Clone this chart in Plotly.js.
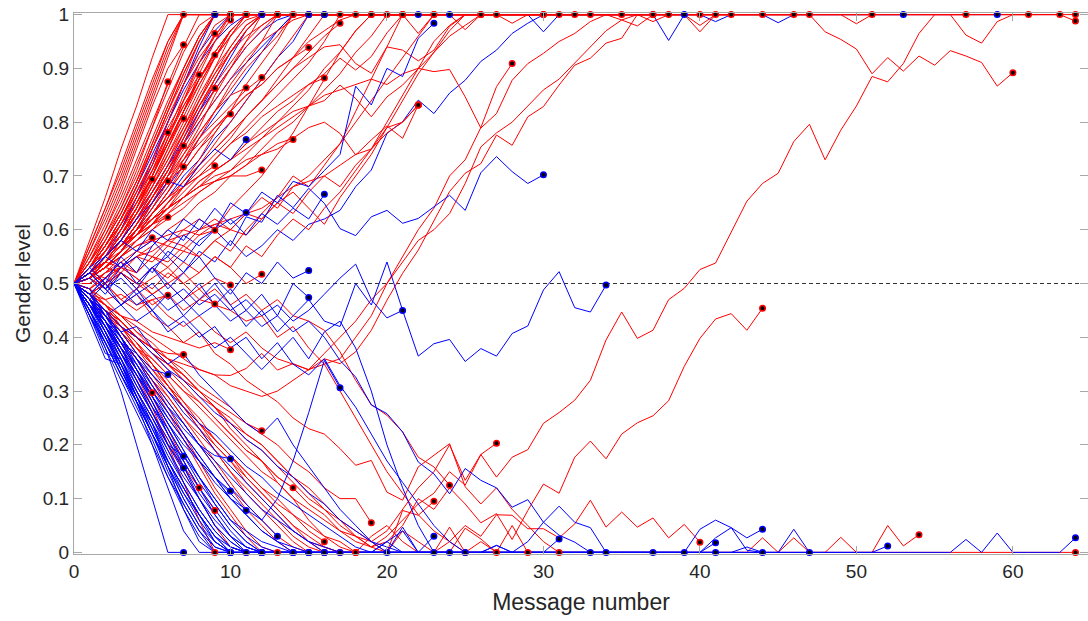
<!DOCTYPE html>
<html><head><meta charset="utf-8">
<script src="https://cdn.plot.ly/plotly-3.0.1.min.js"></script>
<style>html,body{margin:0;padding:0;background:#fff}#chart{width:1088px;height:621px}</style>
</head><body><div id="chart"></div><script>
// Each array = gender level after each message (message number = index, starting at 0)
const blueUp = [
[0.5,0.52,0.56,0.6,0.66,0.72,0.8,0.87,0.94,1],
[0.5,0.52,0.55,0.6,0.66,0.73,0.8,0.87,0.93,0.97,1, 1,1,1,1,1,1,1,1,1,1, 1,1,1,1,1,1,1,1,1, 0.968, 1,1,1,1,1,1,1,1,1,1, 1,1,1,1, 0.985, 1,1,1,1,1,1,1,1,1,1, 1,1,1,1],
[0.5,0.51,0.53,0.56,0.6,0.65,0.7,0.76,0.82,0.87,0.92,0.97,1, 1,1,1,1,1,1,1,1,1,1, 1,1,1,1,1,1,1,1,1,1, 1,1,1,1,1,1,1,1, 0.987, 1,1,1,1,1,1,1,1,1,1,1,1],
[0.5,0.51,0.49,0.52,0.5,0.53,0.55,0.52,0.56,0.54,0.58,0.55,0.57,0.6,0.58,0.61,0.62,0.636,0.68,0.711,0.779,0.801,0.841,0.816,0.854,0.878,0.913,0.934,0.965,0.984,1,1,1,1,1,1,1,1,0.952,1],
[0.5,0.52,0.55,0.58,0.62,0.67,0.72,0.77,0.82,0.86,0.9,0.94,0.97,0.99,1, 1,1,1,1,1,1,1,1],
[0.5,0.51,0.53,0.56,0.6,0.64,0.68,0.72,0.77,0.81,0.85,0.89,0.93,0.97,1, 1,1,1,1,1,1,1,1,1,1],
[0.5,0.52,0.55,0.59,0.63,0.67,0.72,0.76,0.8,0.84,0.88,0.91,0.94,0.97,1,1,1],
[0.5,0.51,0.53,0.56,0.59,0.63,0.66,0.7,0.73,0.77,0.8,0.84,0.88,0.92,0.95,1],
[0.5,0.53,0.57,0.62,0.68,0.74,0.8,0.86,0.91,0.95,0.98,1,1]
];
const redFlatTop = [
[0.5,0.53,0.57,0.62,0.68,0.75,0.82,0.89,0.95,1, 1,1,1,1,1,1,1,1,1,1, 1,1,1,1],
[0.5,0.56,0.62,0.69,0.77,0.85,0.93,1, 1,1,1,1,1,1,1,1,1,1, 1,1,1,1,1,1,1,1,1,1, 0.984,1,1],
[0.5,0.52,0.55,0.59,0.64,0.69,0.75,0.81,0.87,0.92,0.97,1, 1,1,1,1,1,1,1,1,1,1, 1,1,1, 0.972, 1,1,1,1,1,1],
[0.5,0.52,0.54,0.57,0.61,0.66,0.71,0.77,0.83,0.88,0.93,0.97,1, 1,1,1,1,1,1,1,1,1, 0.965, 1,1,1,1,1,1,1,1,1,1],
[0.5,0.54,0.59,0.64,0.7,0.77,0.84,0.9,0.96,1, 1,1,1,1,1,1,1,1,1,1, 1,1,1,1,1,1,1,1,1,1, 1,1,1,1],
[0.5,0.57,0.64,0.71,0.79,0.87,0.95,1, 1,1,1,1,1,1,1,1,1,1, 1,1,1,1,1,1,1,1,1,1, 1,1,1,1,1,1,1, 0.99,0.979,1],
[0.5,0.52,0.56,0.6,0.65,0.7,0.76,0.82,0.88,0.93,0.97,1, 1,1,1,1,1,1,1,1,1,1, 1,1,1,1,1,1,1,1,1,1, 1,1,1,1,1,1,1,1, 0.968,1],
[0.5,0.51,0.53,0.56,0.6,0.65,0.7,0.76,0.82,0.88,0.93,0.97,1, 1,1,1,1,1,1,1,1,1,1, 1,1,1,1,1,1,1,1,1,1, 1,1,1,1,1,1,1, 0.98,1,1],
[0.5,0.53,0.57,0.62,0.68,0.75,0.82,0.88,0.95,1, 1,1,1,1,1,1,1,1,1,1, 1,1,1,1,1,1,1,1,1,1, 1,1,1,1,1,1,1,1,1,1, 1],
[0.5,0.55,0.61,0.68,0.76,0.84,0.92,1, 1,1,1,1,1,1,1,1,1,1, 1,1,1,1,1,1,1,1,1,1, 1,1,1,1,1,1,1,1,1, 0.987, 1,1,1,1,1,1,1],
[0.5,0.52,0.55,0.59,0.63,0.68,0.74,0.8,0.86,0.92,0.97,1, 1,1,1,1,1,1,1,1,1,1, 1,1,1,1,1,1,1,1,1,1, 1,1,1,1,1,1,1,1,1,1, 1,1,1,1,1],
[0.5,0.53,0.58,0.63,0.69,0.76,0.83,0.9,0.96,1, 1,1,1,1,1,1,1,1,1,1, 1,1,1,1,1,1,1,1,1,1, 1,1,1,1,1,1,1,1,1,1, 1,1,1,1,1,1,1,1],
[0.5,0.51,0.54,0.58,0.62,0.67,0.72,0.78,0.84,0.89,0.94,0.98,1, 1,1,1,1,1,1,1,1,1,1, 1,1,1,1,1,1,1,1,1,1, 1,1,1,1,1,1,1,1,1,1, 1,1,1,1,1,1,1, 0.983,1],
[0.5,0.56,0.63,0.7,0.78,0.86,0.94,1, 1,1,1,1,1,1,1,1,1,1, 1,1,1,1,1,1,1,1,1,1, 1,1,1,1,1,1,1,1,1,1, 1,1,1,1,1,1,1,1,1,1, 0.968,0.954,0.936,0.89,0.92,0.895,0.923,0.906,0.933,0.923,0.911,0.867,0.892],
[0.5,0.52,0.55,0.59,0.64,0.7,0.76,0.82,0.88,0.93,0.97,1, 1,1,1,1,1,1,1,1,1,1, 1,1,1,1,1,1,1,1,1,1, 1,1,1,1,1,1,1,1,1,1, 1,1,1,1,1,1,1,1,1,1, 1,1,1,1,1, 0.962,0.947,0.987,1,1],
[0.5,0.54,0.58,0.63,0.69,0.76,0.83,0.9,0.96,1, 1,1,1,1,1,1,1,1,1,1, 1,1,1,1,1,1,1,1,1,1, 1,1,1,1,1,1,1,1,1,1, 1,1,1,1,1,1,1,1,1,1, 1,1,1,1,1,1,1,1,1,1, 1,1,1,1],
[0.5,0.57,0.64,0.72,0.8,0.88,0.95,1, 1,1,1,1,1,1,1,1,1,1, 1,1,1,1,1,1,1,1,1,1, 1,1,1,1,1,1,1,1,1,1, 1,1,1,1,1,1,1,1,1,1, 1,1,1,1,1,1,1,1,1,1, 1,1,1,1,1,1,1],
[0.5,0.52,0.54,0.57,0.61,0.66,0.71,0.77,0.83,0.88,0.93,0.97,1, 1,1,1,1,1,1,1,1,1,1, 1,1,1,1,1,1,1,1,1,1, 1,1,1,1,1,1,1,1,1,1, 1,1,1,1,1,1,1,1,1,1, 1,1,1,1,1,1,1,1,1,1, 1, 0.988]
];
const redUp = [
[0.5,0.58,0.66,0.75,0.83,0.92,1,1],
[0.5,0.54,0.6,0.67,0.75,0.83,0.9,0.944],
[0.5,0.53,0.58,0.64,0.71,0.79,0.875],
[0.5,0.52,0.55,0.59,0.64,0.7,0.77,0.84,0.91,0.965],
[0.5,0.53,0.56,0.6,0.65,0.7,0.76,0.82,0.88,0.925],
[0.5,0.53,0.57,0.62,0.67,0.73,0.79,0.84,0.888],
[0.5,0.51,0.54,0.57,0.61,0.66,0.71,0.76,0.81,0.863],
[0.5,0.53,0.57,0.61,0.66,0.71,0.76,0.807],
[0.5,0.53,0.57,0.62,0.67,0.72,0.781],
[0.5,0.51,0.53,0.56,0.59,0.63,0.67,0.71,0.75,0.79,0.815],
[0.5,0.52,0.55,0.59,0.63,0.67,0.71,0.756],
[0.5,0.51,0.54,0.57,0.61,0.65,0.69,0.717],
[0.5,0.53,0.57,0.61,0.65,0.694],
[0.5,0.51,0.54,0.57,0.61,0.65,0.69],
[0.5,0.52,0.54,0.57,0.6,0.63,0.66,0.68,0.7,0.719],
[0.5,0.52,0.55,0.58,0.62,0.66,0.7,0.74,0.78,0.82,0.85,0.864],
[0.5,0.51,0.54,0.57,0.61,0.65,0.69,0.73,0.77,0.8,0.83,0.86,0.883],
[0.5,0.51,0.53,0.56,0.59,0.63,0.67,0.71,0.75,0.78,0.82,0.85,0.87,0.9,0.92,0.939],
[0.5,0.51,0.53,0.56,0.59,0.62,0.65,0.68,0.7,0.73,0.76,0.78,0.81,0.83,0.85,0.87,0.882],
[0.5,0.51,0.53,0.56,0.59,0.62,0.64,0.66,0.68,0.69,0.7,0.7,0.711],
[0.5,0.51,0.53,0.55,0.58,0.6,0.63,0.65,0.67,0.69,0.7,0.72,0.74,0.75,0.768],
[0.5,0.52,0.54,0.57,0.59,0.61,0.623],
[0.5,0.51,0.53,0.55,0.57,0.585],
[0.5,0.51,0.53,0.55,0.57,0.58,0.59,0.6,0.59,0.599],
[0.5,0.48,0.5,0.52,0.5,0.53,0.51,0.54,0.52,0.55,0.53,0.5,0.517],
[0.5,0.52,0.55,0.59,0.64,0.7,0.77,0.84,0.9,0.95,1],
[0.5,0.51,0.54,0.58,0.63,0.69,0.75,0.82,0.89,0.95,0.99],
[0.5,0.52,0.55,0.58,0.62,0.67,0.72,0.78,0.84,0.9,0.96,1],
[0.5,0.51,0.53,0.56,0.6,0.64,0.69,0.74,0.79,0.85,0.9,0.95,1],
[0.5,0.51,0.53,0.56,0.59,0.63,0.67,0.72,0.77,0.82,0.87,0.91,0.95,1],
[0.5,0.5,0.52,0.55,0.58,0.61,0.65,0.69,0.73,0.78,0.82,0.87,0.91,0.95,1],
[0.5,0.51,0.53,0.55,0.58,0.61,0.64,0.68,0.72,0.76,0.8,0.84,0.88,0.92,0.96,1],
[0.5,0.51,0.53,0.56,0.59,0.62,0.65,0.68,0.71,0.74,0.77,0.81,0.84,0.88,0.92,0.96,1],
[0.5,0.51,0.53,0.56,0.59,0.61,0.64,0.67,0.7,0.73,0.76,0.79,0.82,0.85,0.88,0.91,0.95,1],
[0.5,0.52,0.54,0.57,0.6,0.63,0.66,0.69,0.72,0.75,0.78,0.81,0.84,0.87,0.9,0.93,0.96,0.984],
[0.5,0.51,0.53,0.56,0.58,0.61,0.63,0.66,0.68,0.71,0.73,0.76,0.79,0.82,0.84,0.87,0.89,0.919,0.897,0.922,0.966,1],
[0.5,0.52,0.54,0.57,0.6,0.63,0.66,0.69,0.72,0.75,0.78,0.81,0.84,0.87,0.9,0.92,0.94,0.944,0.909,0.891,0.94,0.934,0.914,0.934,0.978,1,1,1],
[0.5,0.51,0.54,0.56,0.59,0.61,0.64,0.66,0.69,0.71,0.73,0.76,0.78,0.8,0.82,0.83,0.84,0.869,0.844,0.81,0.847,0.869,0.9,0.93,0.96,0.98,1],
[0.5,0.52,0.54,0.57,0.59,0.62,0.64,0.66,0.68,0.7,0.71,0.73,0.74,0.76,0.77,0.79,0.8,0.779,0.739,0.767,0.793,0.77,0.832],
[0.5,0.5,0.52,0.53,0.55,0.56,0.58,0.59,0.6,0.61,0.62,0.63,0.64,0.66,0.68,0.69,0.7,0.72,0.74,0.75,0.78,0.8,0.832],
[0.5,0.51,0.53,0.55,0.58,0.6,0.62,0.64,0.67,0.69,0.71,0.74,0.77,0.8,0.83,0.86,0.9,0.93,0.97,1],
[0.5,0.49,0.51,0.53,0.55,0.57,0.6,0.62,0.65,0.67,0.7,0.72,0.75,0.78,0.8,0.83,0.86,0.89,0.93,0.96,1],
[0.5,0.52,0.55,0.58,0.62,0.66,0.7,0.73,0.76,0.79,0.82,0.85,0.87,0.9,0.92,0.95,0.97,0.99,1],
[0.5,0.55,0.6,0.66,0.73,0.8,0.87,0.94,1,1],
[0.5,0.53,0.57,0.62,0.68,0.75,0.82,0.89,0.95,1,1],
[0.5,0.52,0.56,0.6,0.65,0.71,0.78,0.85,0.91,0.96,1,1],
[0.5,0.54,0.59,0.65,0.72,0.79,0.86,0.93,0.98,1],
[0.5,0.52,0.56,0.61,0.67,0.73,0.8,0.87,0.93,0.98,1],
[0.5,0.53,0.57,0.61,0.66,0.71,0.77,0.83,0.88,0.93,0.97,1],
[0.5,0.51,0.54,0.58,0.63,0.68,0.73,0.79,0.85,0.9,0.94,0.98,1],
[0.5,0.52,0.55,0.58,0.62,0.66,0.71,0.76,0.81,0.86,0.9,0.94,0.97,1],
[0.5,0.51,0.53,0.56,0.6,0.64,0.68,0.73,0.78,0.82,0.86,0.9,0.93,0.96,1],
[0.5,0.53,0.56,0.6,0.64,0.69,0.74,0.79,0.84,0.89,0.93,0.96,0.98,1],
[0.5,0.52,0.54,0.57,0.61,0.65,0.7,0.75,0.8,0.84,0.88,0.92,0.95,0.97,0.99,1],
[0.5,0.54,0.58,0.63,0.69,0.75,0.81,0.87,0.92,0.96,1],
[0.5,0.51,0.55,0.59,0.64,0.7,0.76,0.82,0.87,0.92,0.96,0.99,1],
[0.5,0.53,0.56,0.59,0.63,0.68,0.73,0.78,0.83,0.87,0.91,0.95,0.98,1],
[0.5,0.52,0.56,0.61,0.66,0.72,0.78,0.83,0.88,0.92,0.96,1]
];
const redMid = [
[0.5,0.48,0.5,0.47,0.45,0.47,0.44,0.42,0.44,0.41,0.39,0.41,0.38,0.36,0.35,0.34,0.35,0.36,0.4,0.44,0.5,0.55,0.6,0.64,0.7,0.73,0.79,0.866,0.909],
[0.5,0.47,0.44,0.42,0.4,0.38,0.36,0.35,0.34,0.33,0.329,0.342,0.37,0.339,0.351,0.339,0.36,0.351,0.373,0.413,0.469,0.519,0.562,0.618,0.671,0.705,0.723,0.776,0.757,0.81,0.829,0.869,0.906,0.919,0.947,0.956,1,1,1],
[0.5,0.48,0.46,0.44,0.42,0.4,0.38,0.36,0.34,0.33,0.31,0.3,0.29,0.3,0.32,0.34,0.37,0.4,0.43,0.47,0.5,0.54,0.58,0.6,0.63,0.686,0.754,0.78,0.8,0.83,0.86,0.88,0.91,0.94,0.97,0.99,1,1],
[0.5,0.52,0.55,0.57,0.6,0.62,0.64,0.66,0.69,0.71,0.73,0.75,0.77,0.79,0.81,0.83,0.85,0.86,0.87,0.88,0.87,0.89,0.9,0.894,0.898,0.847,0.789,0.816,0.878,0.909,0.928,0.95,0.965,0.987,1,1],
[0.5,0.52,0.51,0.54,0.56,0.55,0.58,0.57,0.6,0.62,0.6,0.63,0.66,0.64,0.68,0.7,0.73,0.76,0.8,0.84,0.88,0.92,0.96,1],
[0.5,0.49,0.51,0.53,0.52,0.55,0.53,0.56,0.55,0.58,0.6,0.59,0.62,0.65,0.63,0.67,0.7,0.68,0.72,0.75,0.79,0.8,0.832],
[0.5,0.48,0.5,0.52,0.49,0.51,0.53,0.5,0.52,0.55,0.53,0.57,0.55,0.59,0.62,0.6,0.64,0.67,0.71,0.75,0.8,0.85,0.9,0.95,0.98,1,1,1,1,1,1],
[0.5,0.52,0.54,0.53,0.56,0.58,0.57,0.6,0.62,0.6,0.64,0.67,0.7,0.74,0.78,0.83,0.88,0.93,0.97,1],
[0.5,0.49,0.52,0.54,0.52,0.55,0.54,0.57,0.55,0.58,0.56,0.6,0.63,0.66,0.7,0.68,0.72,0.76,0.82,0.88,0.94,1],
[0.5,0.52,0.5,0.53,0.51,0.48,0.5,0.52,0.49,0.51,0.497],
[0.5,0.51,0.53,0.52,0.55,0.54,0.57,0.56,0.59,0.61,0.6,0.63,0.62,0.65,0.67,0.64,0.61,0.66,0.7,0.74,0.79,0.84,0.89,0.93,0.97,1,1]
];
const redDown = [
[0.5,0.47,0.43,0.38,0.33,0.27,0.2,0.13,0.06,0],
[0.5,0.46,0.44,0.4,0.36,0.32,0.27,0.22,0.17,0.12,0.08,0.04,0.01,0],
[0.5,0.48,0.45,0.42,0.39,0.35,0.31,0.27,0.24,0.2,0.17,0.13,0.1,0.07,0.04,0.02,0.01,0,0],
[0.5,0.49,0.47,0.48,0.46,0.47,0.478],
[0.5,0.48,0.5,0.47,0.49,0.46,0.48,0.45,0.47,0.462],
[0.5,0.48,0.46,0.44,0.43,0.41,0.4,0.39,0.38,0.39,0.377],
[0.5,0.47,0.45,0.42,0.4,0.38,0.37,0.368],
[0.5,0.46,0.42,0.38,0.34,0.297],
[0.5,0.48,0.45,0.43,0.4,0.37,0.35,0.33,0.3,0.28,0.26,0.24,0.226],
[0.5,0.46,0.41,0.36,0.3,0.25,0.2,0.16,0.12],
[0.5,0.47,0.43,0.39,0.34,0.29,0.23,0.17,0.12,0.078],
[0.5,0.48,0.46,0.43,0.4,0.37,0.34,0.31,0.28,0.25,0.22,0.19,0.17,0.14,0.12],
[0.5,0.47,0.44,0.41,0.38,0.34,0.31,0.27,0.24,0.21,0.18,0.15,0.12,0.1,0.07,0.04,0.02],
[0.5,0.49,0.46,0.44,0.41,0.39,0.36,0.34,0.31,0.29,0.27,0.24,0.22,0.2,0.17,0.15,0.12,0.1,0.1,0.055],
[0.5,0.48,0.45,0.43,0.4,0.37,0.35,0.32,0.29,0.27,0.24,0.21,0.19,0.16,0.13,0.1,0.08,0.05,0.03,0.01,0,0.078,0.069,0.095],
[0.5,0.52,0.5,0.53,0.51,0.49,0.52,0.5,0.47,0.49,0.46,0.48,0.45,0.47,0.44,0.43,0.413,0.373,0.32,0.275,0.255,0.224,0.177,0.159,0.125],
[0.5,0.48,0.46,0.43,0.4,0.38,0.35,0.33,0.3,0.27,0.25,0.22,0.2,0.17,0.14,0.12,0.09,0.06,0.04,0.02,0.04,0.08,0.12,0.15,0.2,0.134,0.182,0.203],
[0.5,0.47,0.44,0.41,0.38,0.36,0.33,0.3,0.28,0.25,0.22,0.19,0.17,0.14,0.12,0.09,0.07,0.04,0.02,0.01,0.03,0.06,0.09,0.11,0.15,0.125,0.182,0.14,0.177,0.191,0.24,0.26,0.283,0.32,0.395,0.447,0.398,0.413,0.47,0.491,0.526,0.538,0.596,0.653,0.686,0.705,0.764,0.796,0.73,0.785,0.83,0.885,0.875,0.909,0.965,1,1,1],
[0.5,0.48,0.45,0.43,0.4,0.38,0.35,0.32,0.3,0.27,0.24,0.22,0.2,0.17,0.14,0.11,0.08,0.06,0.03,0.01,0.02,0.05,0.1,0.08,0.12,0.09,0.055,0.072,0.024,0.078,0.127,0.11,0.177,0.207,0.174,0.22,0.241,0.254,0.282,0.346,0.398,0.434,0.444,0.413,0.454],
[0.5,0.47,0.45,0.42,0.39,0.36,0.33,0.3,0.27,0.24,0.21,0.18,0.15,0.13,0.1,0.08,0.06,0.04,0.03,0.02,0,0.04,0.02,0,0.02,0.05,0.03,0.07,0.069,0.044,0.044,0.027,0.053,0.097,0.047,0.075,0.047,0.064,0.027,0.052,0.019],
[0.5,0.47,0.44,0.41,0.37,0.34,0.3,0.27,0.23,0.2,0.17,0.14,0.11,0.08,0.05,0.03,0.01,0,0,0.03,0.05,0.02,0,0,0,0.045,0.025,0],
[0.5,0.48,0.45,0.42,0.38,0.35,0.31,0.28,0.24,0.21,0.18,0.15,0.12,0.09,0.07,0.05,0.03,0.02,0,0,0,0,0,0,0.047,0,0.02,0,0.05,0],
[0.5,0.52,0.49,0.46,0.48,0.44,0.42,0.39,0.41,0.37,0.35,0.32,0.3,0.28,0.25,0.23,0.22,0.193,0.162,0.171,0.112,0.097,0.159,0.18,0.202,0.122,0.09,0.12,0.08,0.05,0.02,0],
[0.5,0.51,0.49,0.52,0.5,0.48,0.5,0.47,0.49,0.46,0.45,0.43,0.44,0.4,0.42,0.38,0.35,0.3,0.25,0.2,0.15,0.11,0.07,0.04,0.02,0],
[0.5,0.47,0.45,0.41,0.37,0.33,0.29,0.25,0.21,0.17,0.13,0.09,0.06,0.03,0.01,0],
[0.5,0.48,0.44,0.4,0.36,0.31,0.26,0.21,0.16,0.11,0.07,0.03,0],
[0.5,0.46,0.43,0.39,0.36,0.32,0.29,0.25,0.22,0.19,0.15,0.12,0.09,0.06,0.03,0.01,0],
[0.5,0.49,0.46,0.42,0.39,0.35,0.32,0.28,0.25,0.21,0.18,0.14,0.11,0.08,0.05,0.02,0,0],
[0.5,0.47,0.42,0.37,0.32,0.26,0.21,0.15,0.1,0.05,0.01,0],
[0.5,0.48,0.47,0.44,0.41,0.38,0.36,0.33,0.3,0.27,0.23,0.2,0.17,0.13,0.1,0.06,0.03,0.01,0],
[0.5,0.47,0.44,0.4,0.36,0.32,0.28,0.24,0.2,0.16,0.12,0.08,0.05,0.02,0, 0,0,0,0,0,0,0,0,0,0, 0,0,0,0,0,0,0,0,0,0, 0,0,0,0,0,0,0,0,0, 0.027,0,0.027,0,0,0.028, 0,0,0,0,0,0,0,0,0,0, 0,0,0,0,0],
[0.5,0.48,0.45,0.42,0.38,0.35,0.31,0.27,0.23,0.19,0.15,0.11,0.08,0.05,0.02,0, 0,0,0,0,0,0,0,0,0,0, 0,0,0,0,0,0,0,0,0,0, 0,0,0,0,0,0,0,0,0,0, 0,0,0,0,0,0, 0.05,0.012,0.033]
];
const blueMid = [
[0.5,0.52,0.49,0.53,0.55,0.52,0.56,0.54,0.58,0.6,0.57,0.624,0.614,0.664,0.641,0.677,0.649,0.602,0.589,0.624,0.636,0.612,0.621,0.643,0.664,0.636,0.706,0.736,0.708,0.686,0.702],
[0.5,0.53,0.5,0.55,0.52,0.57,0.6,0.58,0.62,0.6,0.65,0.63,0.67,0.65,0.69,0.68,0.71,0.74,0.867,0.832,0.9,0.885,0.956,0.984],
[0.5,0.47,0.5,0.46,0.49,0.45,0.48,0.44,0.47,0.5,0.46,0.42,0.45,0.41,0.44,0.47,0.43,0.42,0.5,0.46,0.54,0.45,0.365,0.388,0.396,0.355,0.379,0.365,0.407,0.421,0.488,0.522,0.455,0.447,0.497],
[0.5,0.52,0.49,0.51,0.48,0.5,0.47,0.49,0.46,0.48,0.45,0.47,0.44,0.46,0.43,0.45,0.48,0.51,0.536,0.47,0.436,0.45],
[0.5,0.46,0.42,0.38,0.33,0.29,0.25,0.21,0.17,0.14,0.1,0.08,0.06,0.1,0.17,0.26,0.357,0.306],
[0.5,0.52,0.55,0.53,0.56,0.58,0.55,0.59,0.57,0.6,0.62,0.59,0.63,0.61,0.64,0.62,0.666],
[0.5,0.53,0.55,0.58,0.56,0.6,0.58,0.62,0.6,0.64,0.61,0.632],
[0.5,0.52,0.55,0.58,0.62,0.65,0.69,0.68,0.72,0.75,0.73,0.768],
[0.5,0.51,0.48,0.52,0.49,0.53,0.5,0.47,0.5,0.46,0.49,0.45,0.48,0.44,0.5,0.474],
[0.5,0.48,0.51,0.54,0.5,0.53,0.49,0.52,0.55,0.51,0.48,0.52,0.5,0.54,0.51,0.524],
[0.5,0.48,0.51,0.49,0.46,0.48,0.45,0.47,0.44,0.46,0.43,0.45,0.42,0.44,0.41,0.43,0.4,0.357,0.326,0.274,0.258,0.224,0.168,0.146,0.109,0.156,0.134,0.12,0.084,0.098,0.056,0.032,0.019,0],
[0.5,0.46,0.42,0.38,0.35,0.31,0.27,0.24,0.2,0.17,0.14,0.11,0.08,0.06,0.04,0.02,0.01,0,0,0,0.02,0,0,0,0,0,0,0.013,0,0.02,0.056,0.086,0.056,0.046,0],
[0.5,0.47,0.44,0.46,0.43,0.45,0.41,0.43,0.4,0.42,0.38,0.4,0.36,0.39,0.35,0.33,0.36,0.31,0.27,0.22,0.17,0.13,0.09,0.05,0.02,0],
[0.5,0.52,0.49,0.46,0.48,0.45,0.42,0.44,0.41,0.38,0.4,0.37,0.34,0.37,0.4,0.36,0.41,0.43,0.38,0.3,0.2,0.12,0.05,0],
[0.5,0.47,0.44,0.41,0.42,0.38,0.35,0.37,0.33,0.3,0.27,0.24,0.22,0.25,0.2,0.16,0.12,0.08,0.05,0.02,0],
[0.5,0.46,0.43,0.4,0.36,0.33,0.3,0.27,0.24,0.22,0.19,0.16,0.14,0.11,0.09,0.07,0.05,0.03,0.01,0,0.02,0.04,0,0.03],
[0.5,0.48,0.45,0.42,0.4,0.37,0.34,0.32,0.29,0.26,0.24,0.21,0.19,0.16,0.14,0.11,0.09,0.06,0.04,0.02,0.01,0,0,0,0]
];
const blueDown = [
[0.5,0.45,0.38,0.3,0.2,0.1,0,0],
[0.5,0.44,0.37,0.36,0.3,0.24,0.16,0.08,0.02,0,0],
[0.5,0.47,0.42,0.36,0.29,0.22,0.15,0.09,0.04,0.01,0,0,0],
[0.5,0.46,0.41,0.35,0.3,0.25,0.2,0.179],
[0.5,0.48,0.43,0.38,0.32,0.26,0.2,0.157],
[0.5,0.47,0.43,0.39,0.37,0.34,0.331],
[0.5,0.48,0.45,0.4,0.36,0.31,0.27,0.23,0.2,0.18,0.174],
[0.5,0.46,0.42,0.37,0.33,0.29,0.24,0.2,0.17,0.14,0.114],
[0.5,0.47,0.44,0.4,0.35,0.3,0.26,0.22,0.18,0.14,0.11,0.078],
[0.5,0.49,0.44,0.4,0.36,0.32,0.28,0.24,0.2,0.16,0.12,0.09,0.06,0.03],
[0.5,0.45,0.4,0.34,0.29,0.23,0.17,0.11,0.06,0.02,0,0,0,0,0],
[0.5,0.47,0.43,0.38,0.34,0.3,0.25,0.21,0.17,0.13,0.1,0.07,0.04,0.02,0.01,0],
[0.5,0.48,0.44,0.41,0.37,0.33,0.3,0.26,0.23,0.19,0.16,0.13,0.1,0.07,0.04,0.02,0],
[0.5,0.46,0.41,0.36,0.31,0.26,0.21,0.16,0.11,0.07,0.03,0.01,0,0,0,0,0,0],
[0.5,0.44,0.39,0.33,0.28,0.22,0.16,0.11,0.07,0.03,0,0],
[0.5,0.45,0.4,0.35,0.29,0.24,0.19,0.14,0.1,0.06,0.03,0.01,0,0,0],
[0.5,0.47,0.45,0.4,0.34,0.28,0.22,0.16,0.1,0.05,0.02,0,0,0,0,0],
[0.5,0.46,0.43,0.37,0.32,0.27,0.23,0.18,0.14,0.1,0.06,0.04,0.02,0.01,0,0,0],
[0.5,0.43,0.36,0.35,0.28,0.2,0.12,0.04,0,0,0],
[0.5,0.47,0.41,0.34,0.28,0.24,0.17,0.12,0.07,0.02,0,0,0],
[0.5,0.46,0.41,0.35,0.29,0.23,0.17,0.12,0.07,0.03,0.01,0,0],
[0.5,0.48,0.44,0.39,0.34,0.29,0.24,0.19,0.14,0.1,0.06,0.03,0.01,0,0],
[0.5,0.45,0.39,0.34,0.28,0.22,0.17,0.12,0.07,0.03,0],
[0.5,0.47,0.43,0.39,0.35,0.3,0.26,0.22,0.18,0.14,0.1,0.07,0.04,0.02,0,0],
[0.5,0.46,0.42,0.37,0.33,0.28,0.23,0.18,0.13,0.09,0.05,0.02,0],
[0.5,0.45,0.39,0.33,0.27,0.21,0.14,0.08,0.03,0, 0,0,0,0,0,0,0,0,0,0,0, 0.047, 0,0,0,0,0,0,0,0,0,0,0,0,0,0,0,0],
[0.5,0.46,0.41,0.36,0.3,0.25,0.19,0.13,0.08,0.04,0.01,0, 0,0,0,0,0,0,0,0,0,0,0,0,0,0,0, 0.013, 0,0,0,0,0,0,0,0,0,0,0,0],
[0.5,0.47,0.42,0.37,0.31,0.26,0.2,0.15,0.1,0.05,0.02,0, 0,0,0,0,0,0,0,0,0,0, 0,0,0,0,0,0,0,0,0,0, 0,0,0,0,0,0,0,0,0, 0.018],
[0.5,0.44,0.38,0.32,0.26,0.2,0.14,0.09,0.04,0, 0,0,0,0,0,0,0,0,0,0, 0,0,0,0,0,0,0,0,0,0, 0,0,0,0,0,0,0,0,0,0, 0.043,0.06,0.046,0.027,0.043],
[0.5,0.46,0.4,0.35,0.29,0.24,0.18,0.13,0.08,0.04,0.01,0, 0,0,0,0,0,0,0,0,0,0, 0,0,0,0,0,0,0,0,0,0, 0,0,0,0,0,0,0,0,0, 0.027,0.046,0.004,0],
[0.5,0.45,0.4,0.34,0.28,0.22,0.16,0.1,0.05,0.01,0, 0,0,0,0,0,0,0,0,0,0, 0,0,0,0,0,0,0,0,0,0, 0,0,0,0,0,0,0,0,0,0, 0,0,0,0,0, 0.043,0],
[0.5,0.47,0.43,0.39,0.34,0.29,0.24,0.19,0.14,0.09,0.05,0.02,0, 0,0,0,0,0,0,0,0,0,0, 0,0,0,0,0,0,0,0,0,0, 0,0,0,0,0,0,0,0,0,0, 0,0,0,0,0,0,0,0,0, 0.012],
[0.5,0.44,0.39,0.33,0.28,0.22,0.16,0.1,0.05,0.02,0, 0,0,0,0,0,0,0,0,0,0, 0,0,0,0,0,0,0,0,0,0, 0,0,0,0,0,0,0,0,0,0, 0,0, 0.01, 0,0,0,0,0,0,0,0,0,0,0,0,0, 0.024,0,0.036, 0,0,0,0, 0.027],
[0.5,0.46,0.42,0.37,0.32,0.27,0.22,0.17,0.12,0.08,0.04,0.01,0, 0,0,0,0,0,0,0,0,0,0, 0,0,0,0,0,0,0,0, 0.025],
[0.5,0.47,0.43,0.38,0.33,0.28,0.22,0.17,0.12,0.07,0.03,0, 0,0,0,0,0,0,0,0,0,0, 0,0,0,0,0,0,0,0,0,0, 0,0,0,0,0,0,0,0,0,0]
];
const xTickVals = [0,10,20,30,40,50,60];
const yTickVals = [0,0.1,0.2,0.3,0.4,0.5,0.6,0.7,0.8,0.9,1];
const yTickText = ['0','0.1','0.2','0.3','0.4','0.5','0.6','0.7','0.8','0.9','1'];
const RED = '#ff0000', BLUE = '#0000ff';

const traces = [];
const ends = {red: {x: [], y: []}, blue: {x: [], y: []}};
function addGroup(group, color, key) {
  group.forEach(function (ys) {
    const xs = ys.map(function (_, i) { return i; });
    traces.push({x: xs, y: ys, type: 'scatter', mode: 'lines',
      line: {color: color, width: 1}, hoverinfo: 'skip', showlegend: false});
    ends[key].x.push(xs[xs.length - 1]);
    ends[key].y.push(ys[ys.length - 1]);
  });
}
addGroup(blueUp, BLUE, 'blue');
addGroup(redFlatTop, RED, 'red');
addGroup(redUp, RED, 'red');
addGroup(redMid, RED, 'red');
addGroup(redDown, RED, 'red');
addGroup(blueMid, BLUE, 'blue');
addGroup(blueDown, BLUE, 'blue');
traces.push({x: ends.red.x, y: ends.red.y, type: 'scatter', mode: 'markers', cliponaxis: false,
  marker: {size: 5.5, color: '#000', line: {color: RED, width: 1.5}}, hoverinfo: 'skip', showlegend: false});
traces.push({x: ends.blue.x, y: ends.blue.y, type: 'scatter', mode: 'markers', cliponaxis: false,
  marker: {size: 5.5, color: '#000', line: {color: BLUE, width: 1.5}}, hoverinfo: 'skip', showlegend: false});

const axisCommon = {
  ticks: 'inside', ticklen: 8, tickwidth: 1, tickcolor: '#a8a8a8',
  showline: true, linecolor: '#a8a8a8', linewidth: 1, mirror: 'ticks',
  showgrid: false, zeroline: false,
  tickfont: {family: 'Liberation Sans, Arial, sans-serif', size: 19, color: '#262626'}
};
const layout = {
  width: 1088, height: 621,
  margin: {l: 74, r: 0, t: 13, b: 67, pad: 0},
  paper_bgcolor: '#fff', plot_bgcolor: '#fff',
  showlegend: false,
  font: {family: 'Liberation Sans, Arial, sans-serif', color: '#262626'},
  xaxis: Object.assign({}, axisCommon, {
    range: [0, 64.8], tickmode: 'array', tickvals: xTickVals,
    title: {text: 'Message number', font: {size: 23, color: '#262626'}, standoff: 13}
  }),
  yaxis: Object.assign({}, axisCommon, {
    range: [-0.003, 1.003], tickmode: 'array', tickvals: yTickVals, ticktext: yTickText,
    title: {text: 'Gender level', font: {size: 21, color: '#262626'}, standoff: 6}
  }),
  shapes: [{type: 'line', xref: 'paper', x0: 0, x1: 1, yref: 'y', y0: 0.5, y1: 0.5,
    line: {color: '#333333', width: 1, dash: '4px,3px'}, layer: 'below'}]
};
Plotly.newPlot('chart', traces, layout, {staticPlot: true, displayModeBar: false});
</script></body></html>
